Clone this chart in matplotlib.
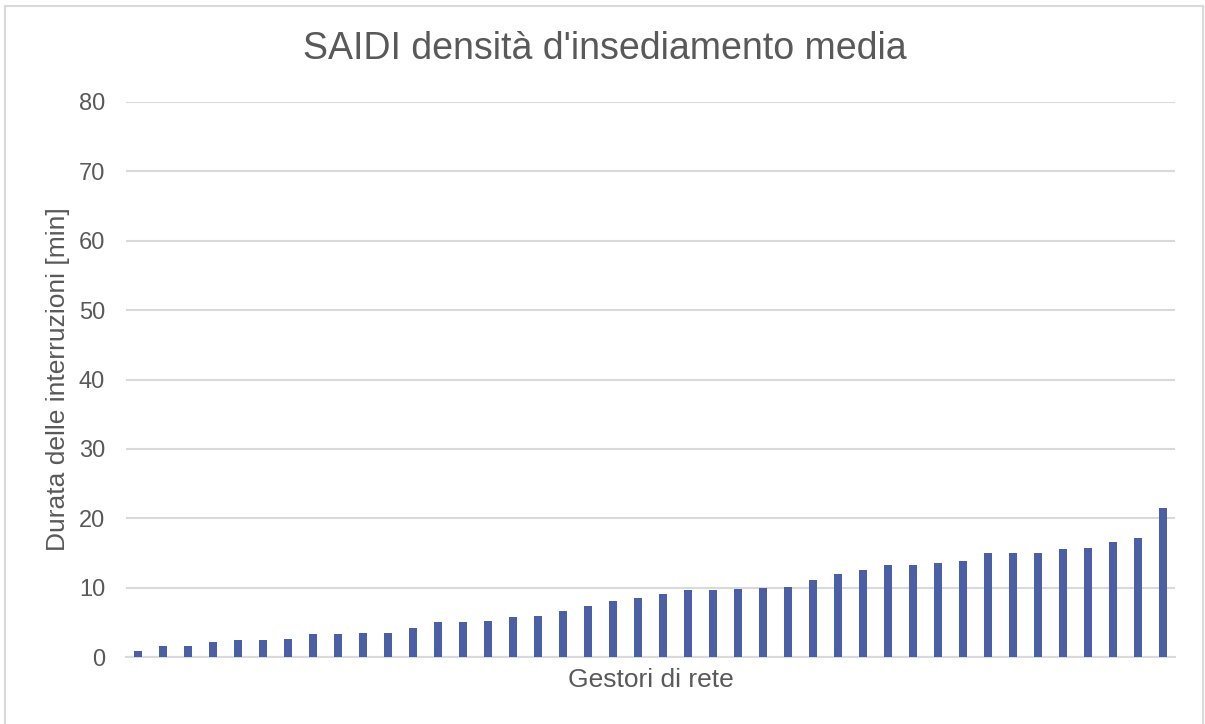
import matplotlib
matplotlib.use("Agg")
import matplotlib.pyplot as plt
from matplotlib.patches import Rectangle

# SAIDI values per network operator, sorted ascending [min]
operators = [f"G{i + 1}" for i in range(42)]
saidi = [0.9, 1.6, 1.6, 2.2, 2.4, 2.4, 2.6, 3.3, 3.3, 3.5, 3.5, 4.2, 5.0, 5.0,
         5.2, 5.7, 5.9, 6.7, 7.4, 8.1, 8.5, 9.1, 9.6, 9.6, 9.8, 9.95, 10.1, 11.1,
         12.0, 12.6, 13.3, 13.3, 13.5, 13.9, 15.0, 15.0, 15.0, 15.5, 15.7, 16.6, 17.2, 21.5]
y_ticks = [0, 10, 20, 30, 40, 50, 60, 70, 80]

title = "SAIDI densità d'insediamento media"
x_label = "Gestori di rete"
y_label = "Durata delle interruzioni [min]"

plt.rcParams["font.family"] = ["Liberation Sans", "DejaVu Sans"]
text_color = "#595959"
grid_color = "#D9D9D9"
bar_color = "#4A5FA5"

fig = plt.figure(figsize=(12.05, 7.24), dpi=100)
fig.patch.set_facecolor("white")

# light frame around the chart area
fig.patches.append(Rectangle((5 / 1205, -0.05), 1198 / 1205, 1.05 - 6 / 724,
                             transform=fig.transFigure, fill=False,
                             edgecolor="#D9D9D9", linewidth=1.5))

ax = fig.add_axes([126 / 1205, 1 - 657 / 724, (1175 - 126) / 1205, (657 - 102) / 724])

x = list(range(len(operators)))
ax.bar(x, saidi, width=0.32, color=bar_color, zorder=3)

ax.set_xlim(-0.5, len(operators) - 0.5)
ax.set_ylim(0, 80)
ax.set_yticks(y_ticks)
ax.set_yticklabels([str(v) for v in y_ticks])
ax.set_xticks([])

ax.yaxis.grid(True, color=grid_color, linewidth=1.5, zorder=0)
ax.tick_params(axis="y", length=0, pad=15, labelsize=17, labelcolor=text_color)
for side in ["top", "right", "left"]:
    ax.spines[side].set_visible(False)
ax.spines["bottom"].set_color(grid_color)
ax.spines["bottom"].set_linewidth(1.5)

ax.set_xlabel(x_label, fontsize=19, color=text_color, labelpad=8)
ax.set_ylabel(y_label, fontsize=19, color=text_color, labelpad=6.5)

fig.text(605 / 1205, 1 - 49 / 724, title, ha="center", va="center",
         fontsize=27, color=text_color)

fig.savefig("out.png", dpi=100, facecolor="white")
